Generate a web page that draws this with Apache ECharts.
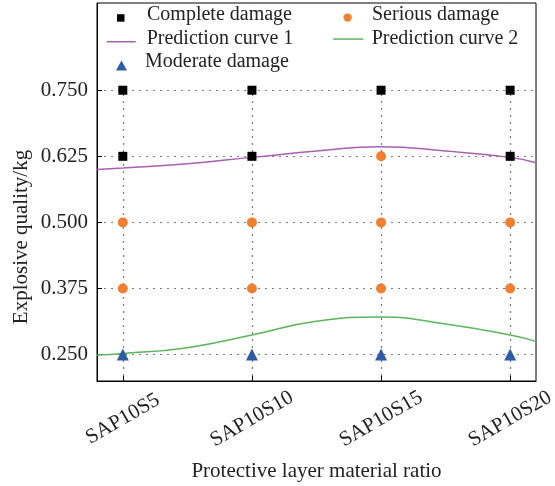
<!DOCTYPE html>
<html>
<head>
<meta charset="utf-8">
<script src="https://cdn.jsdelivr.net/npm/echarts@6/dist/echarts.min.js"></script>
<style>html,body{margin:0;padding:0;background:#fff;}#c{width:555px;height:486px;}</style>
</head>
<body>
<div id="c"></div>
<script>
const categories = ['SAP10S5', 'SAP10S10', 'SAP10S15', 'SAP10S20'];
const yTicks = [0.250, 0.375, 0.500, 0.625, 0.750];
const seriesNames = ['Complete damage', 'Serious damage', 'Prediction curve 1', 'Prediction curve 2', 'Moderate damage'];
// [category, value]
const completeDamage = [['SAP10S5', 0.750], ['SAP10S5', 0.625], ['SAP10S10', 0.750], ['SAP10S10', 0.625], ['SAP10S15', 0.750], ['SAP10S20', 0.750], ['SAP10S20', 0.625]];
const seriousDamage = [['SAP10S5', 0.500], ['SAP10S5', 0.375], ['SAP10S10', 0.500], ['SAP10S10', 0.375], ['SAP10S15', 0.625], ['SAP10S15', 0.500], ['SAP10S15', 0.375], ['SAP10S20', 0.500], ['SAP10S20', 0.375]];
const moderateDamage = [['SAP10S5', 0.250], ['SAP10S10', 0.250], ['SAP10S15', 0.250], ['SAP10S20', 0.250]];
// prediction curves sampled at category positions (1 = SAP10S5 ... 4 = SAP10S20)
const curveX = [0.8, 1, 1.5, 2, 2.5, 3, 3.5, 4, 4.2];
const curve1 = [0.600, 0.603, 0.611, 0.623, 0.635, 0.643, 0.635, 0.623, 0.613];
const curve2 = [0.249, 0.252, 0.263, 0.287, 0.313, 0.321, 0.308, 0.287, 0.275];

const pos = name => categories.indexOf(name) + 1;
const toXY = arr => arr.map(d => [pos(d[0]), d[1]]);
const font = 'Liberation Serif, Times New Roman, serif';
const gridLine = { show: true, lineStyle: { color: '#777', type: [2, 5], width: 1.2 } };

// legend layout: icon box [left, top, w, h, icon], label [x, y(middle)]
const legendLayout = [
  [117, 14.2, 7.5, 7.5, null, 147, 15],
  [343.5, 13.4, 8.3, 8.3, null, 372, 14.5],
  [106.7, 41, 29, 1.5, 'rect', 146.7, 38.7],
  [333.3, 38.3, 30, 1.5, 'rect', 371.7, 38.7],
  [116, 60.5, 11, 10, null, 145, 62]
];

const chart = echarts.init(document.getElementById('c'), null, { renderer: 'canvas' });
chart.setOption({
  animation: false,
  grid: { left: 97, right: 19, top: 3, bottom: 105, outerBoundsMode: 'none', containLabel: false, show: true, borderColor: '#000', borderWidth: 1, backgroundColor: 'transparent' },
  legend: seriesNames.map((n, i) => {
    const L = legendLayout[i];
    return {
      data: [L[4] ? { name: n, icon: L[4] } : n], left: L[0], top: L[1], itemWidth: L[2], itemHeight: L[3],
      padding: 0, z: 20, selectedMode: false, formatter: () => '',
      textStyle: { fontSize: 1, lineHeight: 1 }
    };
  }),
  xAxis: {
    type: 'value', min: 0.8, max: 4.2,
    name: 'Protective layer material ratio', nameLocation: 'middle', nameGap: 80,
    nameTextStyle: { fontFamily: font, fontSize: 21, color: '#222' },
    axisLine: { show: true, lineStyle: { color: '#000', width: 1 } },
    axisTick: { show: true, inside: true, length: 5, customValues: [1, 2, 3, 4], lineStyle: { color: '#000' } },
    axisLabel: {
      customValues: [1, 2, 3, 4], rotate: 30, align: 'center', verticalAlign: 'middle', margin: 38,
      fontFamily: font, fontSize: 21, color: '#222',
      formatter: v => categories[Math.round(v) - 1] || ''
    },
    splitLine: gridLine
  },
  yAxis: {
    type: 'value', min: 0.2, max: 0.915,
    axisLine: { show: true, lineStyle: { color: '#000', width: 1 } },
    axisTick: { show: true, inside: true, length: 5, customValues: yTicks, lineStyle: { color: '#000' } },
    axisLabel: { customValues: yTicks, margin: 9, fontFamily: font, fontSize: 21, color: '#222', formatter: v => v.toFixed(3) },
    splitLine: gridLine
  },
  graphic: [
    { type: 'rect', z: 10, shape: { x: 98, y: 4, width: 437, height: 81 }, style: { fill: '#fff' } },
    {
      type: 'text', x: 21, y: 237, rotation: Math.PI / 2,
      style: { text: 'Explosive quality/kg', font: '21px ' + font, fill: '#222', textAlign: 'center', textVerticalAlign: 'middle' }
    }
  ].concat(seriesNames.map((n, i) => ({
    type: 'text', z: 20, x: legendLayout[i][5], y: legendLayout[i][6],
    style: { text: n, font: '20px ' + font, fill: '#222', textAlign: 'left', textVerticalAlign: 'middle' }
  }))),
  series: [
    { name: 'Prediction curve 1', type: 'line', smooth: true, symbol: 'none', data: curveX.map((x, i) => [x, curve1[i]]), lineStyle: { color: '#a95fb2', width: 1.5 }, itemStyle: { color: '#a95fb2' }, z: 2 },
    { name: 'Prediction curve 2', type: 'line', smooth: true, symbol: 'none', data: curveX.map((x, i) => [x, curve2[i]]), lineStyle: { color: '#5cb55c', width: 1.5 }, itemStyle: { color: '#5cb55c' }, z: 2 },
    { name: 'Complete damage', type: 'scatter', symbol: 'rect', symbolSize: 9, data: toXY(completeDamage), itemStyle: { color: '#000', opacity: 1 }, z: 3 },
    { name: 'Serious damage', type: 'scatter', symbol: 'circle', symbolSize: 10, data: toXY(seriousDamage), itemStyle: { color: '#f07f30', opacity: 1 }, z: 3 },
    { name: 'Moderate damage', type: 'scatter', symbol: 'triangle', symbolSize: 12, data: toXY(moderateDamage), itemStyle: { color: '#2e5ba8', opacity: 1 }, z: 3 }
  ]
});
</script>
</body>
</html>
